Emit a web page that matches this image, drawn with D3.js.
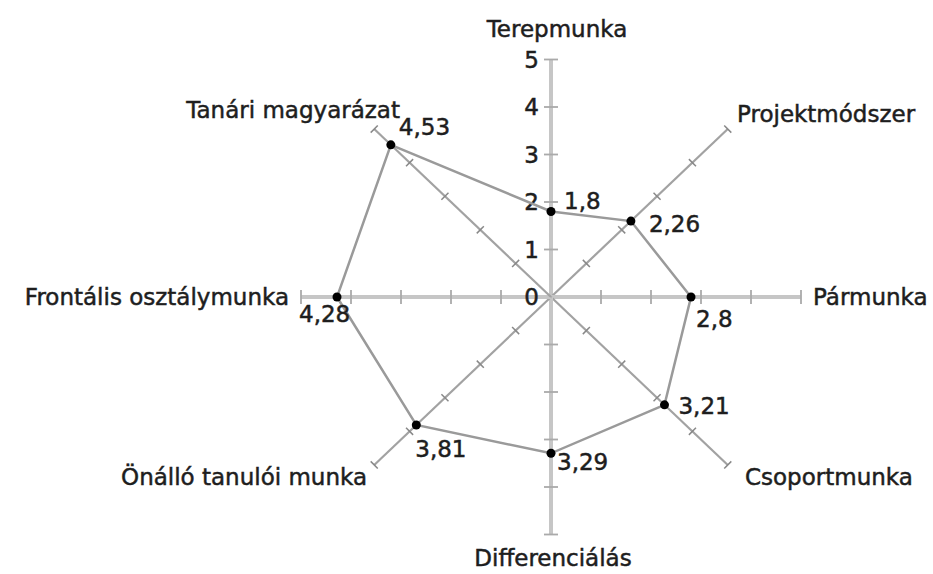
<!DOCTYPE html>
<html>
<head>
<meta charset="utf-8">
<script src="https://cdn.jsdelivr.net/npm/d3@7"></script>
<style>
  body { margin: 0; background: #fff; }
  text { font-family: "DejaVu Sans", sans-serif; fill: #1e1e1e; stroke: #1e1e1e; stroke-width: 0.5px; }
</style>
</head>
<body>
<div id="chart"></div>
<script>
// adatok
const categories = ['Terepmunka', 'Projektmódszer', 'Pármunka', 'Csoportmunka',
  'Differenciálás', 'Önálló tanulói munka', 'Frontális osztálymunka', 'Tanári magyarázat'];
const values = [1.8, 2.26, 2.8, 3.21, 3.29, 3.81, 4.28, 4.53];
const valueLabels = ['1,8', '2,26', '2,8', '3,21', '3,29', '3,81', '4,28', '4,53'];
const tickValues = [0, 1, 2, 3, 4, 5];

const width = 933, height = 574;
const cx = 551, cy = 297;

const svg = d3.select('#chart').append('svg')
  .attr('width', width)
  .attr('height', height);

// a kép kicsit torzított, ezért külön skála x-re és y-ra
const rx = d3.scaleLinear().domain([0, 5]).range([0, 250]);
const ry = d3.scaleLinear().domain([0, 5]).range([0, 237.5]);

// tengelyek szögei: fent kezdve, óramutató irányában
const angle = i => -Math.PI / 2 + i * Math.PI / 4;
const px = (i, v) => cx + rx(v) * Math.cos(angle(i));
const py = (i, v) => cy + ry(v) * Math.sin(angle(i));

const units = [1, 2, 3, 4, 5];

// tengelyek
categories.forEach((c, i) => {
  const main = i % 2 === 0;
  svg.append('line')
    .attr('x1', cx).attr('y1', cy)
    .attr('x2', px(i, 5)).attr('y2', py(i, 5))
    .attr('stroke', main ? '#c6c6c6' : '#a2a2a2')
    .attr('stroke-width', main ? 4 : 2.2);

  // osztásjelek, merőlegesen
  const a = angle(i) + Math.PI / 2;
  const len = main ? 7 : 5;
  svg.append('g').selectAll('line')
    .data(units)
    .enter().append('line')
    .attr('x1', d => px(i, d) - len * Math.cos(a))
    .attr('y1', d => py(i, d) - len * Math.sin(a))
    .attr('x2', d => px(i, d) + len * Math.cos(a))
    .attr('y2', d => py(i, d) + len * Math.sin(a))
    .attr('stroke', main ? '#aaa' : '#888')
    .attr('stroke-width', main ? 1.8 : 1.5);
});

// függőleges tengely számai
svg.append('g').selectAll('text')
  .data(tickValues)
  .enter().append('text')
  .attr('x', cx - 12)
  .attr('y', d => cy - ry(d))
  .attr('dy', '0.36em')
  .attr('text-anchor', 'end')
  .style('font-size', '23px')
  .text(d => d);

// adat poligon
const line = d3.line()
  .x((d, i) => px(i, d))
  .y((d, i) => py(i, d))
  .curve(d3.curveLinearClosed);

svg.append('path')
  .datum(values)
  .attr('d', line)
  .attr('fill', 'none')
  .attr('stroke', '#9a9a9a')
  .attr('stroke-width', 2.5);

svg.append('g').selectAll('circle')
  .data(values)
  .enter().append('circle')
  .attr('cx', (d, i) => px(i, d))
  .attr('cy', (d, i) => py(i, d))
  .attr('r', 4.5)
  .attr('fill', '#000');

// értékcímkék eltolása a ponthoz képest
const valueOffsets = [[13, -3], [18, 11], [5, 30], [14, 9], [6, 17], [-1, 32], [-38, 25], [8, -10]];
svg.append('g').selectAll('text')
  .data(values)
  .enter().append('text')
  .attr('x', (d, i) => px(i, d) + valueOffsets[i][0])
  .attr('y', (d, i) => py(i, d) + valueOffsets[i][1])
  .style('font-size', '23px')
  .text((d, i) => valueLabels[i]);

// kategória feliratok
const catPos = [
  { x: 557, y: 37, anchor: 'middle' },
  { x: 737, y: 122, anchor: 'start' },
  { x: 813, y: 305, anchor: 'start' },
  { x: 745, y: 485, anchor: 'start' },
  { x: 553, y: 566, anchor: 'middle' },
  { x: 367, y: 485, anchor: 'end' },
  { x: 289, y: 305, anchor: 'end' },
  { x: 400, y: 118, anchor: 'end' }
];
svg.append('g').selectAll('text')
  .data(categories)
  .enter().append('text')
  .attr('x', (d, i) => catPos[i].x)
  .attr('y', (d, i) => catPos[i].y)
  .attr('text-anchor', (d, i) => catPos[i].anchor)
  .style('font-size', '23px')
  .text(d => d);
</script>
</body>
</html>
